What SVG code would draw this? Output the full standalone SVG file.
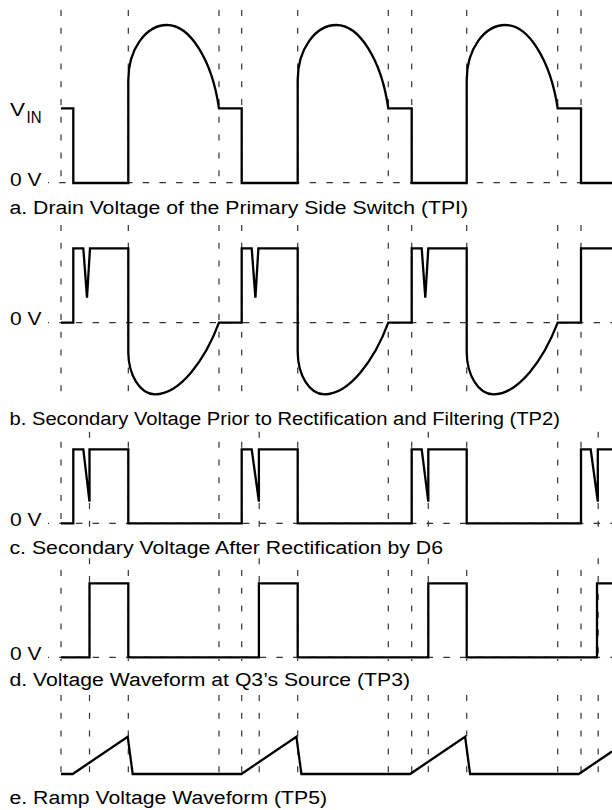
<svg xmlns="http://www.w3.org/2000/svg" width="612" height="810" viewBox="0 0 612 810">
<style>
.wave{fill:none;stroke:#000;stroke-width:2.3;stroke-linejoin:miter;stroke-linecap:butt}
.vd{stroke:#333;stroke-width:1.2;stroke-dasharray:6 11.8;fill:none}
.hd{stroke:#333;stroke-width:1.2;stroke-dasharray:6.5 10.2;stroke-dashoffset:5.5;fill:none}
.t{font-family:"Liberation Sans",Arial,sans-serif;font-size:18px;fill:#000}
.ts{font-family:"Liberation Sans",Arial,sans-serif;font-size:17px;fill:#000}
</style>
<rect width="612" height="810" fill="#fff"/>
<g id="gridlines">
<path class="vd" d="M61,10V183M128.3,10V183M219,10V183M241.7,10V183M297.7,10V183M388.3,10V183M411.7,10V183M466.7,10V183M557.7,10V183M581,10V183"/>
<path class="vd" d="M61,225V394M128.3,225V394M219,225V394M241.7,225V394M297.7,225V394M388.3,225V394M411.7,225V394M466.7,225V394M557.7,225V394M581,225V394"/>
<path class="vd" d="M61,441.7V527M128.3,441.7V527M219,441.7V527M241.7,441.7V527M297.7,441.7V527M388.3,441.7V527M411.7,441.7V527M466.7,441.7V527M557.7,441.7V527M581,441.7V527M89.5,431.7V527M259.2,431.7V527M428.3,431.7V527M598.2,431.7V527"/>
<path class="vd" d="M61,570V661M128.3,570V661M219,570V661M241.7,570V661M297.7,570V661M388.3,570V661M411.7,570V661M466.7,570V661M557.7,570V661M581,570V661M89.5,558.3V661M259.2,558.3V661M428.3,558.3V661M598.2,558.3V661"/>
<path class="vd" d="M61,695V776M128.3,695V776M219,695V776M241.7,695V776M297.7,695V776M388.3,695V776M411.7,695V776M466.7,695V776M557.7,695V776M581,695V776M89.5,695V776M259.2,695V776M428.3,695V776M598.2,695V776"/>
<path class="hd" d="M48,182.7H612M48,322.7H612M48,523.3H612M48,657.3H612"/>
</g>
<g id="panel-a">
<path class="wave" d="M61,108.3H73.3V183H128.3V80A38.7 55 0 0 1 167,25C190,25 212,60 219,108.3H241.7V183H297.7V80A38.7 55 0 0 1 336.4,25C359.4,25 381.4,60 388.3,108.3H411.7V183H466.7V80A38.7 55 0 0 1 505.4,25C528.4,25 550.4,60 557.7,108.3H581V183H612"/>
<text class="t" x="10" y="115.7" textLength="15" lengthAdjust="spacingAndGlyphs">V</text>
<text class="ts" x="26.5" y="122.5" textLength="15" lengthAdjust="spacingAndGlyphs">IN</text>
<text class="t" x="10" y="185.5" textLength="31.5" lengthAdjust="spacingAndGlyphs">0 V</text>
<text class="t" x="9.5" y="213.5" textLength="458.5" lengthAdjust="spacingAndGlyphs">a. Drain Voltage of the Primary Side Switch (TPI)</text>
</g>
<g id="panel-b">
<path class="wave" d="M61,322.7H73.3V248.3H83.3L87,297.7L90,248.3H128.3V351.7A26.7 42.6 0 0 0 155,394.3C180,394.3 205,360 219,322.7H241.7V248.3H251.7L255.4,297.7L258.4,248.3H297.7V351.7A26.7 42.6 0 0 0 324.4,394.3C349.4,394.3 374.4,360 388.3,322.7H411.7V248.3H421.7L425.3,297.7L428.3,248.3H466.7V351.7A26.7 42.6 0 0 0 493.4,394.3C518.4,394.3 543.4,360 557.7,322.7H581V248.3H612"/>
<text class="t" x="10" y="325.3" textLength="31.5" lengthAdjust="spacingAndGlyphs">0 V</text>
<text class="t" x="9.5" y="424.8" textLength="550.5" lengthAdjust="spacingAndGlyphs">b. Secondary Voltage Prior to Rectification and Filtering (TP2)</text>
</g>
<g id="panel-c">
<path class="wave" d="M61,523.3H73.3V449.3H83.3L89.5,501.7V449.3H128.3V523.3H241.7V449.3H251.7L258.9,501.7V449.3H297.7V523.3H411.7V449.3H421.7L428.3,501.7V449.3H466.7V523.3H581V449.3H590.7L597.8,501.7V449.3H612"/>
<text class="t" x="10" y="525.8" textLength="31.5" lengthAdjust="spacingAndGlyphs">0 V</text>
<text class="t" x="9.5" y="554" textLength="433.5" lengthAdjust="spacingAndGlyphs">c. Secondary Voltage After Rectification by D6</text>
</g>
<g id="panel-d">
<path class="wave" d="M61,657.3H89.5V583.3H128.3V657.3H258.9V583.3H297.7V657.3H428.3V583.3H466.7V657.3H597V583.3H612"/>
<text class="t" x="10" y="659.8" textLength="31.5" lengthAdjust="spacingAndGlyphs">0 V</text>
<text class="t" x="9.5" y="686" textLength="400.5" lengthAdjust="spacingAndGlyphs">d. Voltage Waveform at Q3’s Source (TP3)</text>
</g>
<g id="panel-e">
<path class="wave" d="M61,774H72.7L127.7,736.7L132.7,774H241.4L296.4,736.7L301.4,774H410.1L465.1,736.7L470.1,774H578.8L612,751.5"/>
<text class="t" x="9.5" y="804" textLength="317.5" lengthAdjust="spacingAndGlyphs">e. Ramp Voltage Waveform (TP5)</text>
</g>
</svg>
